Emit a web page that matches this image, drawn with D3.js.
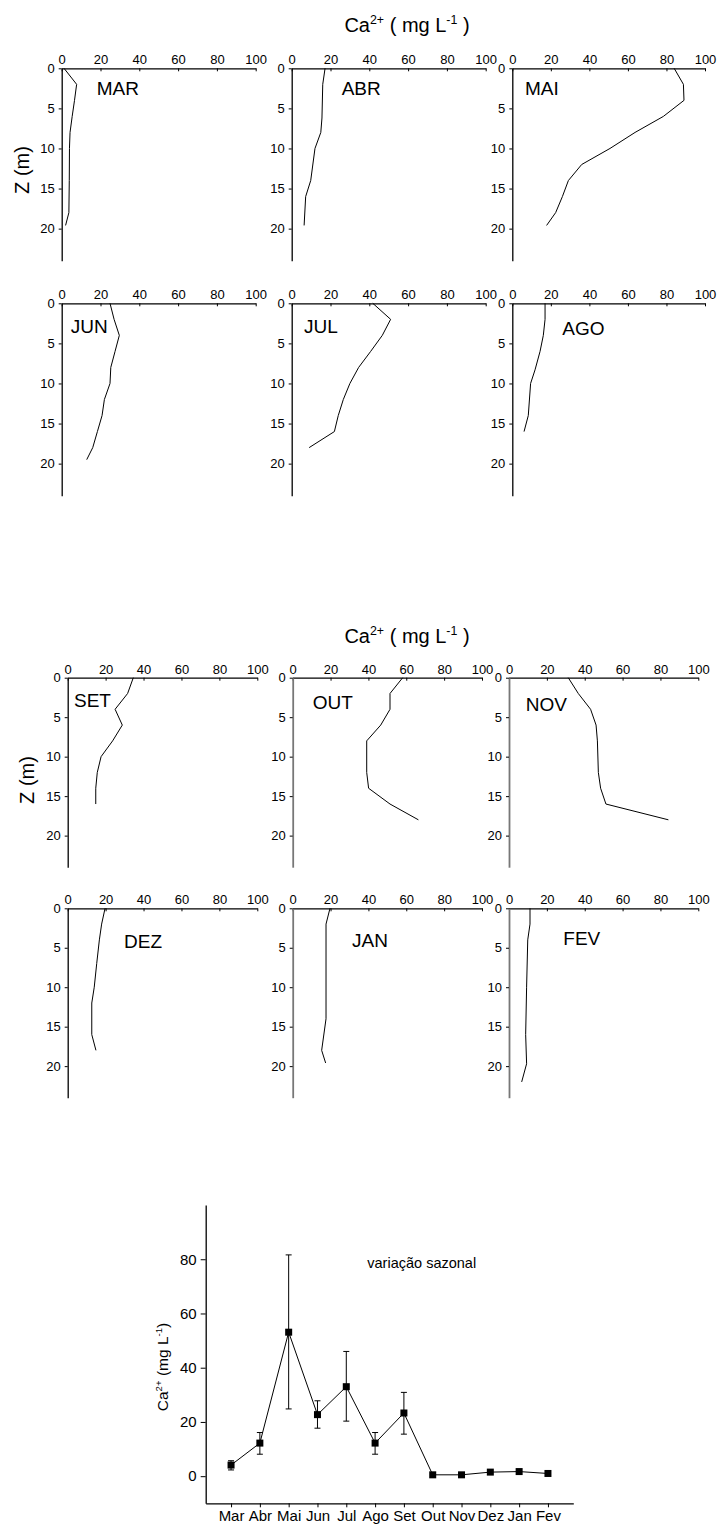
<!DOCTYPE html>
<html><head><meta charset="utf-8">
<script src="https://cdn.jsdelivr.net/npm/d3@7"></script>
<style>
body{margin:0;background:#fff;}
svg{display:block;font-family:"Liberation Sans",Arial,sans-serif;}
</style></head>
<body>
<svg id="c" width="718" height="1528"></svg>
<script>
// ---- Depth profiles: Ca2+ (mg L-1) vs depth Z (m) ----
const monthNames = ["MAR","ABR","MAI","JUN","JUL","AGO","SET","OUT","NOV","DEZ","JAN","FEV"];

const marDepth = [0, 2, 4, 6, 8, 10, 14, 18, 19.6];
const marCa    = [1.2, 7.7, 6.6, 5.4, 4.3, 4.0, 3.9, 3.7, 2.0];
const abrDepth = [0, 2, 6.2, 8, 10, 14, 16, 19.6];
const abrCa    = [17.2, 16.0, 15.6, 15.0, 12.0, 9.8, 7.2, 6.4];
const maiDepth = [0, 2, 4, 6, 8, 10, 12, 14, 16, 18, 19.6];
const maiCa    = [84, 88.8, 89.1, 78.4, 63.7, 50.7, 36.0, 29.1, 26.0, 22.5, 17.8];
const junDepth = [0, 2, 4, 6, 8, 10, 12, 14, 16, 18, 19.5];
const junCa    = [24.9, 27.0, 29.7, 27.5, 25.3, 24.9, 22.0, 20.8, 18.4, 16.0, 12.9];
const julDepth = [0, 2, 4, 6, 8, 10, 12, 14, 16, 18];
const julCa    = [41.8, 51.0, 46.7, 40.7, 34.5, 30.0, 26.6, 24.0, 22.0, 9.0];
const agoDepth = [0, 2, 4, 6, 8.3, 10, 14, 16];
const agoCa    = [17.0, 17.0, 16.1, 14.4, 11.8, 9.5, 8.3, 6.1];
const setDepth = [0, 2, 4, 6, 8, 10, 12, 14, 16];
const setCa    = [34.6, 31.6, 25.0, 28.8, 23.7, 17.6, 15.6, 14.8, 14.8];
const outDepth = [0, 2, 4, 6, 8, 12, 14, 16, 18];
const outCa    = [58.1, 51.4, 51.4, 46.5, 39.1, 39.1, 40.1, 51.4, 66.4];
const novDepth = [0, 2, 4, 6, 8, 12, 14, 16, 18];
const novCa    = [31.3, 36.6, 43.1, 46.0, 46.7, 47.2, 48.4, 51.2, 84.2];
const dezDepth = [0, 2, 4, 7, 10, 12, 16, 18];
const dezCa    = [19.7, 17.9, 16.7, 15.3, 14.0, 12.7, 12.7, 14.9];
const janDepth = [0, 2, 14, 18, 19.6];
const janCa    = [19.7, 17.6, 17.6, 15.3, 17.4];
const fevDepth = [0, 2, 4, 10, 16, 19.7, 22];
const fevCa    = [11.1, 11.1, 9.9, 9.3, 8.8, 9.3, 6.7];

const xTicks = [0, 20, 40, 60, 80, 100];
const zTicks = [0, 5, 10, 15, 20];

// ---- Seasonal variation ----
const seasonLabels = ["Mar","Abr","Mai","Jun","Jul","Ago","Set","Out","Nov","Dez","Jan","Fev"];
const seasonMean   = [4.1, 12.2, 53.1, 22.7, 33.0, 12.2, 23.3, 0.5, 0.5, 1.5, 1.7, 1.0];
const seasonUpper  = [5.7, 16.1, 81.6, 27.8, 46.0, 16.1, 30.9, 0.5, 0.5, 1.5, 1.7, 1.0];
const seasonLower  = [2.3, 8.1, 24.8, 17.7, 20.3, 8.1, 15.5, 0.5, 0.5, 1.5, 1.7, 1.0];
const seasonYTicks = [0, 20, 40, 60, 80];

const profiles = [
  [marDepth, marCa],[abrDepth, abrCa],[maiDepth, maiCa],
  [junDepth, junCa],[julDepth, julCa],[agoDepth, agoCa],
  [setDepth, setCa],[outDepth, outCa],[novDepth, novCa],
  [dezDepth, dezCa],[janDepth, janCa],[fevDepth, fevCa]
];

// layout
const sections = [
  {cols: [[61.7,255.7],[291.7,485.7],[512.3,705]], rows: [[68.3,260.7],[303.3,495.7]], title: 25, zlab: [22,170]},
  {cols: [[67.7,257.3],[292.7,482],[509,698.3]], rows: [[677.7,867.2],[908.3,1097.7]], title: 636, zlab: [27,780]}
];
// label positions (left x, center y)
const labelPos = [
  [96.7,88],[341.7,88],[525,88],[70.7,326.7],[304,326.7],[562.3,328.3],
  [74,700],[312.7,702.3],[525.7,704.3],[124,941],[352,940],[563.3,938.3]
];

const svg = d3.select("#c");

function supText(g, x, y, size, parts, anchor){
  const t = g.append("text").attr("x", x).attr("y", y).attr("font-size", size)
    .attr("text-anchor", anchor || "middle").attr("fill", "#000");
  parts.forEach(p => {
    const s = t.append("tspan").text(p.t);
    if (p.sup) s.attr("font-size", size*0.62).attr("dy", -size*0.4);
    else if (p.after) s.attr("dy", size*0.4);
  });
  return t;
}

sections.forEach((sec, si) => {
  supText(svg, 407, sec.title + 7, 20, [
    {t:"Ca"},{t:"2+",sup:true},{t:" ( mg L",after:true},{t:"-1",sup:true},{t:" )",after:true}
  ]);
  svg.append("text").attr("transform", `translate(${sec.zlab[0]},${sec.zlab[1]}) rotate(-90)`)
    .attr("text-anchor","middle").attr("dominant-baseline","central").attr("font-size",20).text("Z (m)");
  sec.rows.forEach((row, ri) => {
    sec.cols.forEach((col, ci) => {
      const idx = si*6 + ri*3 + ci;
      const x = d3.scaleLinear().domain([0,100]).range(col);
      const y = d3.scaleLinear().domain([0,24]).range(row);
      const g = svg.append("g");
      const gray = (si === 1 && ci > 0);
      const ax = g.append("g").attr("transform", `translate(0,${row[0]})`)
        .call(d3.axisTop(x).tickValues(xTicks).tickSizeInner(-3).tickSizeOuter(0).tickPadding(4));
      const ay = g.append("g").attr("transform", `translate(${col[0]},0)`)
        .call(d3.axisLeft(y).tickValues(zTicks).tickSizeInner(3).tickSizeOuter(0).tickPadding(4));
      [ax, ay].forEach(a => {
        a.selectAll("text").attr("font-size", 13).attr("fill", "#000")
          .attr("font-family", '"Liberation Sans",Arial,sans-serif');
        a.selectAll("line").attr("stroke", "#000");
      });
      ax.select(".domain").attr("stroke", "#000").attr("stroke-width", 1.3);
      ay.select(".domain").attr("stroke", gray ? "#777" : "#000").attr("stroke-width", gray ? 1.8 : 1.3);
      const [dd, cc] = profiles[idx];
      const line = d3.line().x(d => x(d[1])).y(d => y(d[0]));
      g.append("path").datum(dd.map((d,i) => [d, cc[i]])).attr("d", line)
        .attr("fill","none").attr("stroke","#000").attr("stroke-width",1);
      const lp = labelPos[idx];
      g.append("text").attr("x", lp[0]).attr("y", lp[1]).attr("dominant-baseline","central")
        .attr("font-size", 19).text(monthNames[idx]);
    });
  });
});

// ---- Seasonal chart ----
{
  const x = d3.scaleLinear().domain([-0.88, 11.88]).range([205.7, 573.3]);
  const y = d3.scaleLinear().domain([-10, 100]).range([1503.3, 1205]);
  const g = svg.append("g");
  const ay = g.append("g").attr("transform", "translate(205.7,0)")
    .call(d3.axisLeft(y).tickValues(seasonYTicks).tickSizeInner(5).tickSizeOuter(0).tickPadding(4));
  const ax = g.append("g").attr("transform", "translate(0,1503.3)")
    .call(d3.axisBottom(x).tickValues(d3.range(seasonLabels.length))
      .tickFormat(i => seasonLabels[i]).tickSizeInner(4).tickSizeOuter(0).tickPadding(3));
  [ax, ay].forEach(a => {
    a.selectAll("text").attr("font-size", 15).attr("fill","#000")
      .attr("font-family", '"Liberation Sans",Arial,sans-serif');
    a.selectAll("line").attr("stroke","#000");
    a.select(".domain").attr("stroke","#000").attr("stroke-width",1.3);
  });
  const pts = seasonMean.map((m,i) => ({i, m, u: seasonUpper[i], l: seasonLower[i]}));
  // error bars
  pts.filter(p => p.u - p.l > 0.01).forEach(p => {
    g.append("line").attr("x1", x(p.i)).attr("x2", x(p.i)).attr("y1", y(p.u)).attr("y2", y(p.l))
      .attr("stroke","#000").attr("stroke-width",1);
    [p.u, p.l].forEach(v => g.append("line").attr("x1", x(p.i)-3).attr("x2", x(p.i)+3)
      .attr("y1", y(v)).attr("y2", y(v)).attr("stroke","#000").attr("stroke-width",1));
  });
  g.append("path").datum(pts).attr("d", d3.line().x(p => x(p.i)).y(p => y(p.m)))
    .attr("fill","none").attr("stroke","#000").attr("stroke-width",1);
  g.selectAll("rect.m").data(pts).enter().append("rect")
    .attr("x", p => x(p.i)-3.5).attr("y", p => y(p.m)-3.5).attr("width",7).attr("height",7).attr("fill","#000");
  g.append("text").attr("x", 367.3).attr("y", 1263).attr("dominant-baseline","central")
    .attr("font-size", 14.5).text("variação sazonal");
  const yl = g.append("g").attr("transform", "translate(163,1367) rotate(-90)");
  supText(yl, 0, 5, 15.5, [
    {t:"Ca"},{t:"2+",sup:true},{t:" (mg L",after:true},{t:"-1",sup:true},{t:")",after:true}
  ]);
}
</script>
</body></html>
